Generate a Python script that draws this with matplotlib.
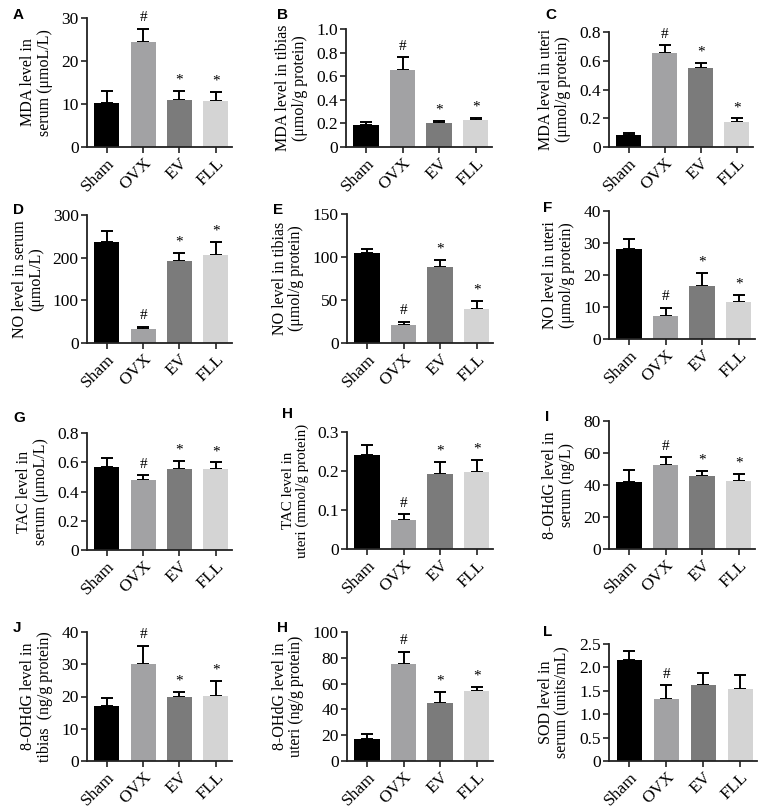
import matplotlib.pyplot as plt
import matplotlib.transforms as mtransforms
import numpy as np

plt.rcParams['font.family'] = ['Liberation Serif', 'DejaVu Serif']

# groups shared by every panel
groups = ["Sham", "OVX", "EV", "FLL"]
colors = ["#000000", "#a2a2a4", "#7b7b7b", "#d4d4d4"]

# ---- panel data: bar means, upper error, marks above bars ----
mda_serum = [10.2, 24.5, 11.0, 10.6]
mda_serum_err = [2.8, 3.0, 2.1, 2.2]
mda_tibia = [0.19, 0.65, 0.20, 0.23]
mda_tibia_err = [0.02, 0.11, 0.02, 0.02]
mda_uteri = [0.085, 0.655, 0.55, 0.175]
mda_uteri_err = [0.015, 0.055, 0.035, 0.025]
no_serum = [236, 32, 192, 206]
no_serum_err = [27, 6, 18, 30]
no_tibia = [105, 21, 88, 40]
no_tibia_err = [4, 4, 9, 9]
no_uteri = [28.0, 7.3, 16.7, 11.6]
no_uteri_err = [3.4, 2.4, 4.0, 2.1]
tac_serum = [0.57, 0.48, 0.555, 0.555]
tac_serum_err = [0.06, 0.035, 0.055, 0.045]
tac_uteri = [0.240, 0.075, 0.192, 0.197]
tac_uteri_err = [0.027, 0.014, 0.032, 0.031]
ohdg_serum = [42.0, 52.5, 45.5, 42.7]
ohdg_serum_err = [7.5, 5.0, 3.2, 4.3]
ohdg_tibia = [17.0, 30.2, 20.0, 20.2]
ohdg_tibia_err = [2.4, 5.6, 1.5, 4.6]
ohdg_uteri = [17.0, 75.5, 45.0, 54.0]
ohdg_uteri_err = [4.0, 9.0, 8.5, 3.5]
sod_serum = [2.15, 1.32, 1.62, 1.53]
sod_serum_err = [0.20, 0.30, 0.26, 0.30]

marks_std = ["", "#", "*", "*"]
marks_sod = ["", "#", "", ""]

panels = [
    # letter, ylabel, values, err, ymax, yticks, ticklabels, marks
    ("A", "MDA level in\nserum (\u03bcmoL/L)", mda_serum, mda_serum_err, 30,
     [0, 10, 20, 30], ["0", "10", "20", "30"], marks_std),
    ("B", "MDA level in tibias\n(\u03bcmol/g protein)", mda_tibia, mda_tibia_err, 1.0,
     [0, 0.2, 0.4, 0.6, 0.8, 1.0], ["0", "0.2", "0.4", "0.6", "0.8", "1.0"], marks_std),
    ("C", "MDA level in uteri\n(\u03bcmol/g protein)", mda_uteri, mda_uteri_err, 0.8,
     [0, 0.2, 0.4, 0.6, 0.8], ["0", "0.2", "0.4", "0.6", "0.8"], marks_std),
    ("D", "NO level in serum\n(\u03bcmoL/L)", no_serum, no_serum_err, 300,
     [0, 100, 200, 300], ["0", "100", "200", "300"], marks_std),
    ("E", "NO level in tibias\n(\u03bcmol/g protein)", no_tibia, no_tibia_err, 150,
     [0, 50, 100, 150], ["0", "50", "100", "150"], marks_std),
    ("F", "NO level in uteri\n(\u03bcmol/g protein)", no_uteri, no_uteri_err, 40,
     [0, 10, 20, 30, 40], ["0", "10", "20", "30", "40"], marks_std),
    ("G", "TAC level in\nserum (\u03bcmoL/L)", tac_serum, tac_serum_err, 0.8,
     [0, 0.2, 0.4, 0.6, 0.8], ["0", "0.2", "0.4", "0.6", "0.8"], marks_std),
    ("H", "TAC level in\nuteri (mmol/g protein)", tac_uteri, tac_uteri_err, 0.3,
     [0, 0.1, 0.2, 0.3], ["0", "0.1", "0.2", "0.3"], marks_std),
    ("I", "8-OHdG level in\nserum (ng/L)", ohdg_serum, ohdg_serum_err, 80,
     [0, 20, 40, 60, 80], ["0", "20", "40", "60", "80"], marks_std),
    ("J", "8-OHdG level in\ntibias  (ng/g protein)", ohdg_tibia, ohdg_tibia_err, 40,
     [0, 10, 20, 30, 40], ["0", "10", "20", "30", "40"], marks_std),
    ("H", "8-OHdG level in\nuteri (ng/g protein)", ohdg_uteri, ohdg_uteri_err, 100,
     [0, 20, 40, 60, 80, 100], ["0", "20", "40", "60", "80", "100"], marks_std),
    ("L", "SOD level in\nserum (units/mL)", sod_serum, sod_serum_err, 2.5,
     [0, 0.5, 1.0, 1.5, 2.0, 2.5], ["0", "0.5", "1.0", "1.5", "2.0", "2.5"], marks_sod),
]

# y label font size per panel (the TAC uteri label is set smaller in the original)
ylabel_sizes = [11.5, 11.5, 11.5, 11.5, 11.5, 11.5, 11.5, 10.8, 11.5, 11.5, 11.5, 11.5]

# axes boxes in pixels: left, top, right, bottom ; letter x, y
boxes = [
    (87, 18, 232, 147, 13, 15), (346, 29, 492, 147, 277, 15), (609, 32, 753, 147, 545, 15),
    (87, 215, 232, 343, 13, 210), (347, 214, 493, 343, 273, 210), (609, 211, 755, 339, 543, 208),
    (87, 433, 232, 550, 13, 418), (347, 432, 493, 549, 282, 414), (609, 421, 755, 549, 545, 417),
    (87, 632, 232, 761, 13, 628), (347, 632, 493, 761, 277, 628), (609, 644, 757, 761, 543, 632),
]

W, H = 767, 808
fig = plt.figure(figsize=(W / 100, H / 100), dpi=100)
shift = mtransforms.ScaledTranslation(7 / 100, 3 / 100, fig.dpi_scale_trans)

x = np.arange(len(groups))
for (letter, ylab, vals, errs, ymax, yt, ytl, marks), box, ysz in zip(panels, boxes, ylabel_sizes):
    l, t, r, b, lx, ly = box
    ax = fig.add_axes([l / W, 1 - b / H, (r - l) / W, (b - t) / H])
    ax.bar(x, vals, width=0.69, color=colors, edgecolor="none", zorder=2)
    ax.errorbar(x, vals, yerr=[np.zeros(4), errs], fmt="none", ecolor="black",
                elinewidth=1.4, capsize=4.5, capthick=1.4, zorder=1)
    for xi, v, e, m in zip(x, vals, errs, marks):
        if m:
            ax.text(xi, v + e + ymax * 0.035, m, ha="center", va="bottom", fontsize=11)
    ax.set_xlim(-0.55, 3.45)
    ax.set_ylim(0, ymax)
    ax.set_yticks(yt)
    ax.set_yticklabels(ytl, fontsize=12.5)
    ax.set_xticks(x)
    ax.set_xticklabels(groups, rotation=45, ha="right", rotation_mode="anchor", fontsize=12.5)
    for lab in ax.get_xticklabels():
        lab.set_transform(lab.get_transform() + shift)
    ax.set_ylabel(ylab, fontsize=ysz, linespacing=1.05, labelpad=6)
    for s in ["top", "right"]:
        ax.spines[s].set_visible(False)
    for s in ["left", "bottom"]:
        ax.spines[s].set_linewidth(1.3)
        ax.spines[s].set_color("#222222")
    ax.tick_params(axis="both", length=4, width=1.2, color="#222222", pad=2)
    fig.text(lx / W, 1 - ly / H, letter, fontsize=11, fontweight="bold",
             family=["Liberation Sans", "DejaVu Sans"], ha="left", va="center")

fig.savefig("out.png", dpi=100)
